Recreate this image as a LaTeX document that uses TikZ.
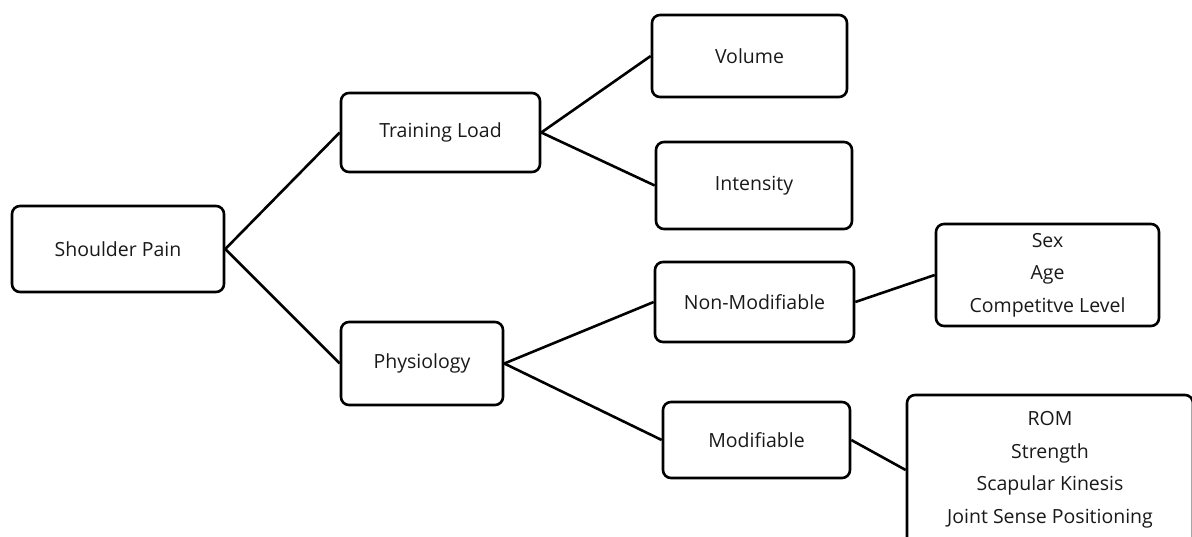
\documentclass[tikz,border=0pt]{standalone}
\usepackage{fontspec}
\setmainfont{Open Sans}
\begin{document}
\begin{tikzpicture}[x=1pt,y=-1pt,
  box/.style={draw=black, line width=2.6pt, rounded corners=8pt, inner sep=0pt, align=center,
    font=\fontsize{19.5}{32.5}\selectfont, text=black!90},
  link/.style={draw=black, line width=2.6pt}]
\useasboundingbox (0,0) rectangle (1192,536);
\clip (0,0) rectangle (1192,536);
\node[box, minimum width=212pt, minimum height=86pt] (sp) at (118,249) {Shoulder Pain};
\node[box, minimum width=199pt, minimum height=79pt] (tl) at (440.5,132.5) {Training Load};
\node[box, minimum width=162pt, minimum height=83pt] (ph) at (422,363.5) {Physiology};
\node[box, minimum width=195pt, minimum height=82pt] (vo) at (749.5,56) {Volume};
\node[box, minimum width=196pt, minimum height=87pt] (in) at (754,185.5) {Intensity};
\node[box, minimum width=199pt, minimum height=80pt] (nm) at (754.5,302) {Non-Modifiable};
\node[box, minimum width=187pt, minimum height=76pt] (mo) at (756.5,440) {Modifiable};
\node[box, minimum width=223pt, minimum height=102pt] (sa) at (1047.5,275) {Sex\\Age\\Competitve Level};
\node[box, minimum width=286pt, minimum height=150pt] (rom) at (1050,470) {ROM\\Strength\\Scapular Kinesis\\Joint Sense Positioning};
\draw[link] (sp.east) -- (tl.west);
\draw[link] (sp.east) -- (ph.west);
\draw[link] (tl.east) -- (vo.west);
\draw[link] (tl.east) -- (in.west);
\draw[link] (ph.east) -- (nm.west);
\draw[link] (ph.east) -- (mo.west);
\draw[link] (nm.east) -- (sa.west);
\draw[link] (mo.east) -- (rom.west);
\end{tikzpicture}
\end{document}
